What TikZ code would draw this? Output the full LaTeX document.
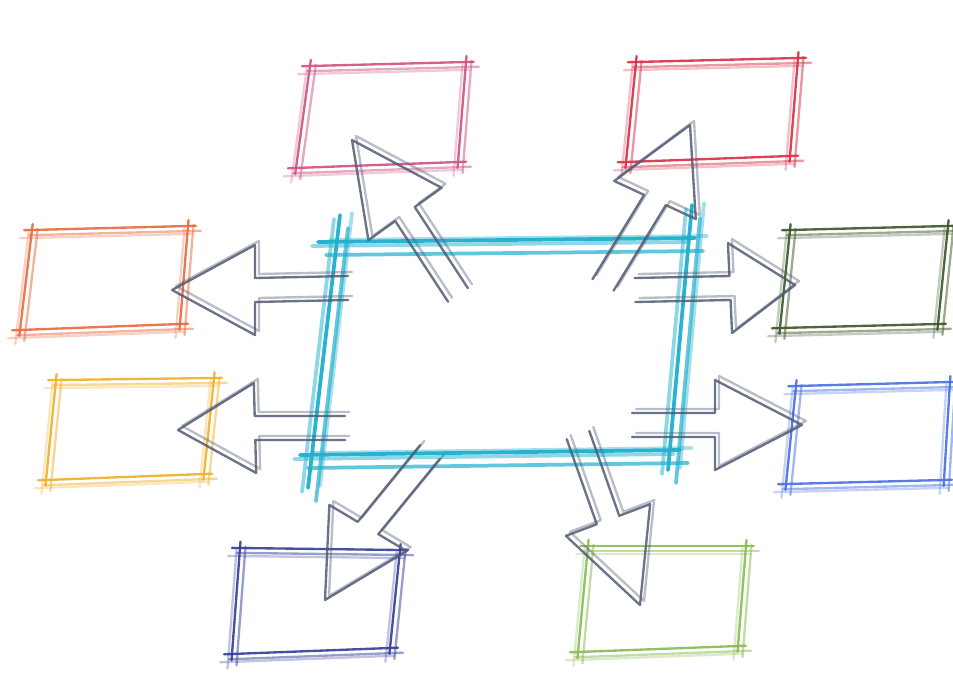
\documentclass[tikz,border=0pt]{standalone}
\usetikzlibrary{calc}
\definecolor{cpink}{RGB}{205,80,130}
\definecolor{cred}{RGB}{215,45,70}
\definecolor{corange}{RGB}{230,105,60}
\definecolor{cyellow}{RGB}{240,175,40}
\definecolor{cdgreen}{RGB}{60,85,40}
\definecolor{cblue}{RGB}{70,110,225}
\definecolor{cnavy}{RGB}{50,60,150}
\definecolor{clgreen}{RGB}{135,185,80}
\definecolor{ccyan}{RGB}{30,175,205}
\definecolor{carrow}{RGB}{80,90,115}
\tikzset{
  skline/.style={line width=2pt, line cap=round},
  cyline/.style={line width=3.2pt, line cap=round, draw=ccyan},
  arrline/.style={line width=2pt, line cap=round, line join=round, draw=carrow},
}
\newcommand\skbox[5]{%
  \foreach \dx/\dy/\op in {0/0/0.9,5/5/0.5,-4/8/0.3}{%
    \begin{scope}[shift={(\dx,\dy)}]
      \draw[skline,draw=#1,opacity=\op] ($#2!-0.05!#3$) -- ($#3!-0.05!#2$);
      \draw[skline,draw=#1,opacity=\op] ($#3!-0.06!#4$) -- ($#4!-0.06!#3$);
      \draw[skline,draw=#1,opacity=\op] ($#4!-0.05!#5$) -- ($#5!-0.05!#4$);
      \draw[skline,draw=#1,opacity=\op] ($#5!-0.06!#2$) -- ($#2!-0.06!#5$);
    \end{scope}}}
\newcommand\skarrow[3]{%
  \foreach \dx/\dy/\op in {0/0/0.85,4/-4/0.4}{%
    \begin{scope}[shift={(\dx,\dy)}]
      \draw[arrline,opacity=\op]
        ($#1!0.36cm!90:#3$) -- ($#2!0.36cm!90:#3$) -- ($#2!1.35cm!90:#3$) -- #3
        -- ($#2!1.35cm!-90:#3$) -- ($#2!0.36cm!-90:#3$) -- ($#1!0.36cm!-90:#3$);
    \end{scope}}}
\begin{document}
\begin{tikzpicture}[x=0.03cm,y=-0.03cm]
\useasboundingbox (0,0) rectangle (953,676);
% central box
\foreach \dx/\dy/\op in {0/0/0.95,8/13/0.7,-6/4/0.5,12/-2/0.4}{%
  \begin{scope}[shift={(\dx,\dy)}]
    \draw[cyline,opacity=\op] (318,242) -- (695,238);
    \draw[cyline,opacity=\op] (692,205) -- (668,470);
    \draw[cyline,opacity=\op] (300,455) -- (680,450);
    \draw[cyline,opacity=\op] (340,215) -- (308,488);
  \end{scope}}
% outer boxes
\skbox{cpink}{(310,66)}{(466,62)}{(458,162)}{(296,168)}
\skbox{cred}{(636,62)}{(798,58)}{(790,156)}{(626,162)}
\skbox{corange}{(32,230)}{(188,226)}{(180,324)}{(20,330)}
\skbox{cyellow}{(56,380)}{(214,378)}{(204,474)}{(46,480)}
\skbox{cdgreen}{(790,230)}{(948,226)}{(938,324)}{(780,328)}
\skbox{cblue}{(796,386)}{(950,382)}{(944,480)}{(786,484)}
\skbox{cnavy}{(240,548)}{(400,550)}{(390,648)}{(232,654)}
\skbox{clgreen}{(588,546)}{(746,546)}{(738,646)}{(578,652)}
% arrows
\skarrow{(348,288)}{(255,290)}{(172,290)}
\skarrow{(345,428)}{(255,428)}{(178,430)}
\skarrow{(635,290)}{(730,288)}{(795,285)}
\skarrow{(632,425)}{(715,425)}{(802,425)}
\skarrow{(458,295)}{(405,214)}{(352,140)}
\skarrow{(603,285)}{(655,200)}{(690,125)}
\skarrow{(430,452)}{(368,528)}{(325,600)}
\skarrow{(578,435)}{(608,520)}{(640,605)}
\end{tikzpicture}
\end{document}
